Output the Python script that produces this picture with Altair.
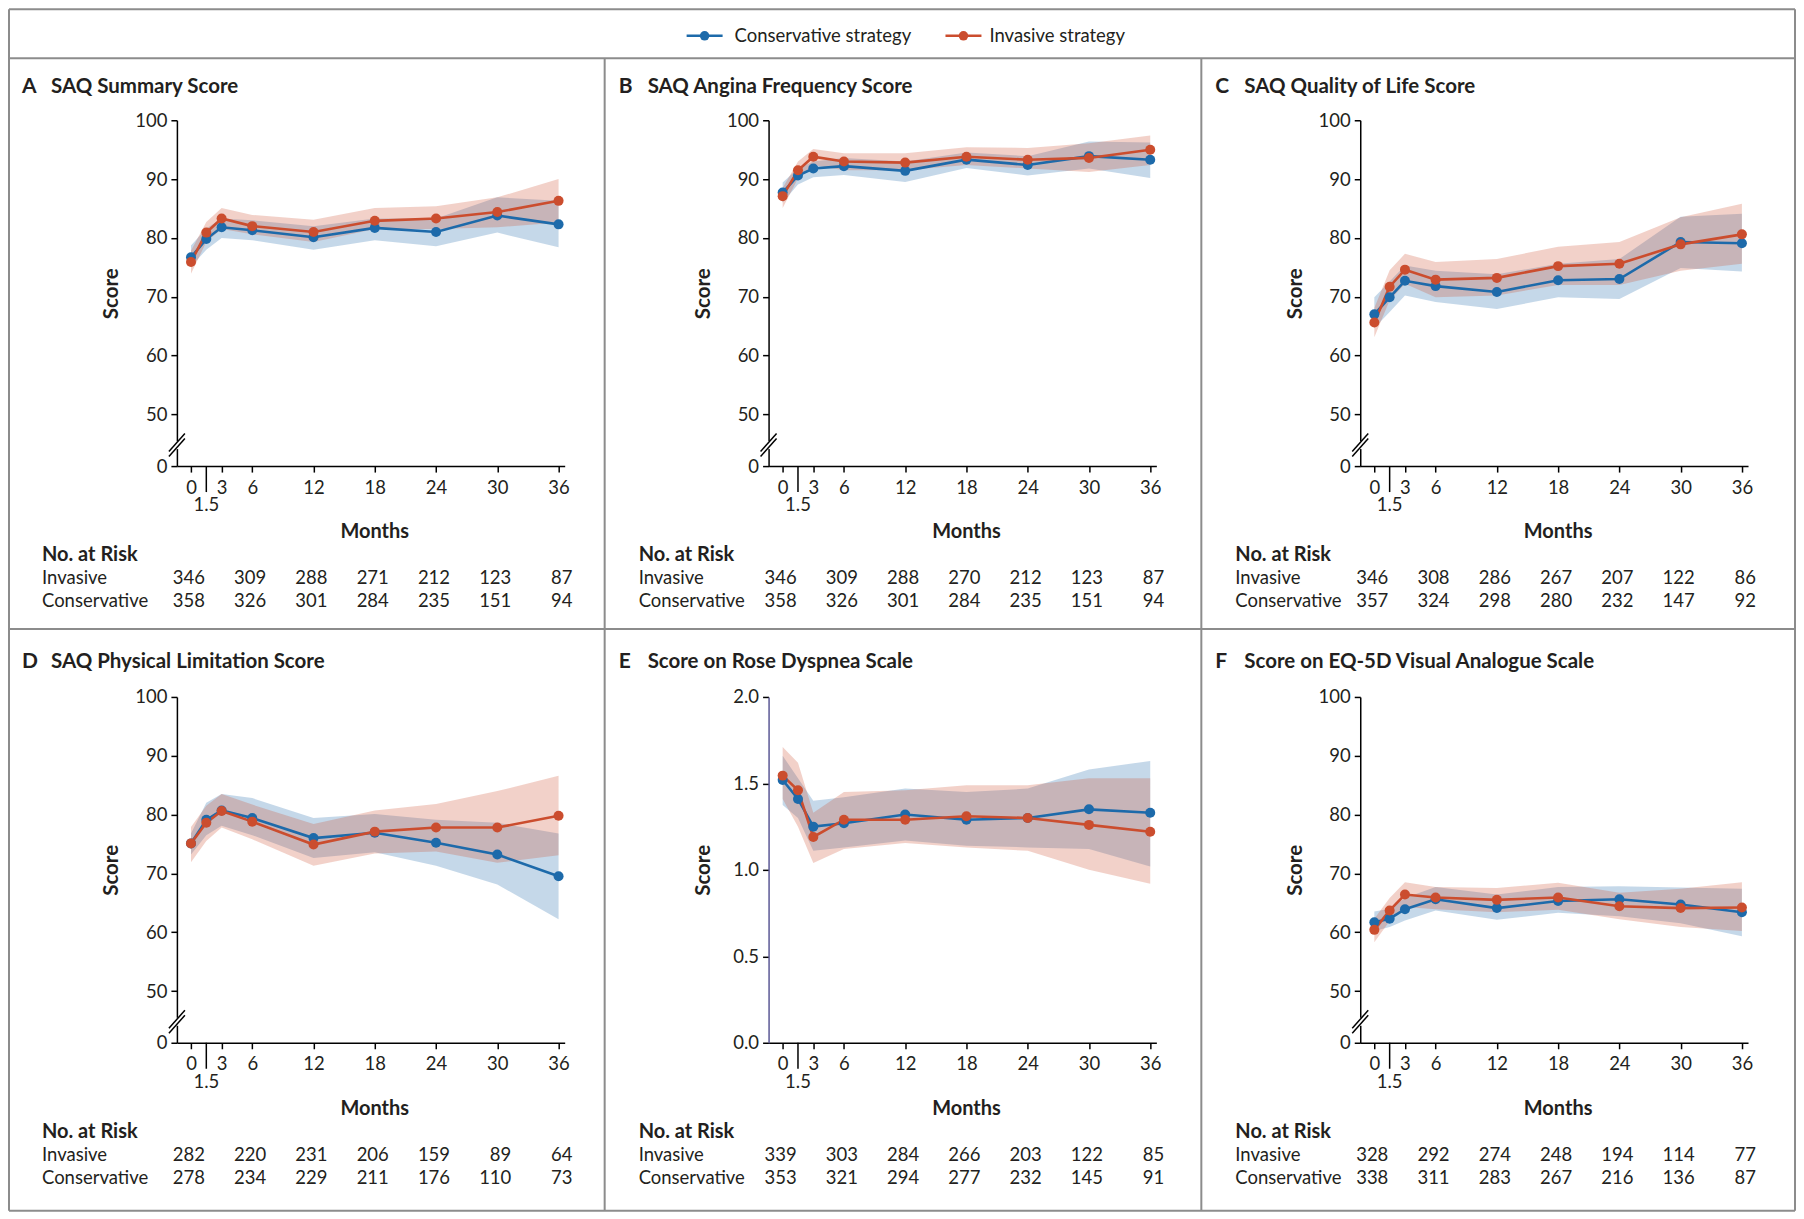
import altair as alt
import pandas as pd

MONTHS = [0, 1.5, 3, 6, 12, 18, 24, 30, 36]
RISK_MONTHS = [0, 6, 12, 18, 24, 30, 36]
GROUPS = ["Conservative strategy", "Invasive strategy"]
RISK_ROWS = ["Invasive", "Conservative"]

# Panel A: SAQ Summary Score
A_CONS = [76.7, 79.8, 81.8, 81.3, 80.1, 81.7, 81.0, 83.8, 82.3]
A_CONS_LO = [75.1, 78.0, 80.0, 79.6, 78.0, 79.6, 78.6, 80.9, 78.4]
A_CONS_HI = [78.7, 81.6, 83.3, 83.0, 82.0, 83.3, 83.3, 86.9, 86.3]
A_INV = [75.9, 80.9, 83.3, 82.0, 81.0, 82.9, 83.3, 84.4, 86.3]
A_INV_LO = [73.9, 79.3, 81.5, 80.6, 79.3, 81.5, 81.5, 81.8, 82.6]
A_INV_HI = [77.8, 82.7, 85.1, 83.9, 83.1, 85.1, 85.4, 86.9, 90.0]
A_RISK_INV = [346, 309, 288, 271, 212, 123, 87]
A_RISK_CONS = [358, 326, 301, 284, 235, 151, 94]

# Panel B: SAQ Angina Frequency Score
B_CONS = [87.7, 90.6, 91.8, 92.2, 91.4, 93.3, 92.4, 93.9, 93.3]
B_CONS_LO = [86.0, 89.1, 90.3, 90.7, 89.5, 91.9, 90.6, 91.8, 90.2]
B_CONS_HI = [89.4, 91.8, 93.0, 93.6, 93.0, 94.5, 93.9, 96.4, 96.2]
B_INV = [87.1, 91.5, 93.8, 93.0, 92.8, 93.8, 93.3, 93.6, 95.0]
B_INV_LO = [85.1, 90.1, 92.4, 91.5, 91.5, 92.4, 91.8, 91.2, 92.4]
B_INV_HI = [88.5, 93.0, 95.1, 94.4, 94.4, 95.4, 95.3, 96.1, 97.4]
B_RISK_INV = [346, 309, 288, 270, 212, 123, 87]
B_RISK_CONS = [358, 326, 301, 284, 235, 151, 94]

# Panel C: SAQ Quality of Life Score
C_CONS = [67.0, 69.9, 72.7, 71.8, 70.8, 72.8, 73.0, 79.3, 79.1]
C_CONS_LO = [64.7, 67.4, 70.2, 69.1, 67.9, 69.9, 69.6, 74.9, 74.3]
C_CONS_HI = [69.9, 72.6, 75.3, 74.4, 73.8, 75.6, 76.4, 83.6, 84.1]
C_INV = [65.6, 71.7, 74.6, 72.9, 73.2, 75.2, 75.6, 78.9, 80.6]
C_INV_LO = [63.1, 69.4, 72.2, 69.9, 70.2, 72.0, 72.0, 74.4, 75.6]
C_INV_HI = [68.1, 74.5, 77.3, 75.9, 76.4, 78.5, 79.3, 83.5, 85.8]
C_RISK_INV = [346, 308, 286, 267, 207, 122, 86]
C_RISK_CONS = [357, 324, 298, 280, 232, 147, 92]

# Panel D: SAQ Physical Limitation Score
D_CONS = [75.1, 79.1, 80.7, 79.4, 76.0, 76.9, 75.2, 73.2, 69.5]
D_CONS_LO = [73.2, 76.5, 78.1, 76.5, 72.6, 73.6, 71.3, 68.1, 62.2]
D_CONS_HI = [76.8, 82.0, 83.5, 82.8, 79.4, 80.1, 79.1, 78.6, 76.8]
D_INV = [75.1, 78.6, 80.6, 78.8, 74.9, 77.1, 77.8, 77.8, 79.8]
D_INV_LO = [71.9, 75.5, 77.8, 75.8, 71.3, 73.4, 73.7, 71.8, 73.1]
D_INV_HI = [77.9, 81.5, 83.5, 81.7, 78.4, 80.7, 81.8, 84.0, 86.6]
D_RISK_INV = [282, 220, 231, 206, 159, 89, 64]
D_RISK_CONS = [278, 234, 229, 211, 176, 110, 73]

# Panel E: Score on Rose Dyspnea Scale
E_CONS = [1.52, 1.41, 1.25, 1.27, 1.32, 1.29, 1.30, 1.35, 1.33]
E_CONS_LO = [1.375, 1.30, 1.11, 1.13, 1.17, 1.14, 1.13, 1.12, 1.02]
E_CONS_HI = [1.66, 1.53, 1.40, 1.42, 1.47, 1.45, 1.47, 1.58, 1.63]
E_INV = [1.545, 1.46, 1.19, 1.29, 1.29, 1.31, 1.30, 1.26, 1.22]
E_INV_LO = [1.41, 1.25, 1.04, 1.12, 1.155, 1.13, 1.11, 1.00, 0.92]
E_INV_HI = [1.71, 1.62, 1.33, 1.45, 1.46, 1.49, 1.49, 1.53, 1.53]
E_RISK_INV = [339, 303, 284, 266, 203, 122, 85]
E_RISK_CONS = [353, 321, 294, 277, 232, 145, 91]

# Panel F: Score on EQ-5D Visual Analogue Scale
F_CONS = [61.7, 62.3, 63.9, 65.6, 64.1, 65.3, 65.6, 64.7, 63.4]
F_CONS_LO = [60.2, 60.9, 62.0, 63.7, 62.1, 63.3, 62.7, 61.5, 59.3]
F_CONS_HI = [63.5, 64.0, 65.8, 67.7, 66.4, 67.7, 67.8, 67.6, 67.4]
F_INV = [60.4, 63.7, 66.4, 65.9, 65.5, 65.9, 64.4, 64.1, 64.2]
F_INV_LO = [58.3, 61.9, 64.3, 63.9, 63.4, 63.8, 62.2, 60.9, 60.2]
F_INV_HI = [62.3, 65.8, 68.5, 67.7, 67.5, 68.4, 66.7, 67.4, 68.5]
F_RISK_INV = [328, 292, 274, 248, 194, 114, 77]
F_RISK_CONS = [338, 311, 283, 267, 216, 136, 87]

PANELS = [
    ("A", "SAQ Summary Score", A_CONS, A_CONS_LO, A_CONS_HI, A_INV, A_INV_LO, A_INV_HI, A_RISK_INV, A_RISK_CONS, False),
    ("B", "SAQ Angina Frequency Score", B_CONS, B_CONS_LO, B_CONS_HI, B_INV, B_INV_LO, B_INV_HI, B_RISK_INV, B_RISK_CONS, False),
    ("C", "SAQ Quality of Life Score", C_CONS, C_CONS_LO, C_CONS_HI, C_INV, C_INV_LO, C_INV_HI, C_RISK_INV, C_RISK_CONS, False),
    ("D", "SAQ Physical Limitation Score", D_CONS, D_CONS_LO, D_CONS_HI, D_INV, D_INV_LO, D_INV_HI, D_RISK_INV, D_RISK_CONS, False),
    ("E", "Score on Rose Dyspnea Scale", E_CONS, E_CONS_LO, E_CONS_HI, E_INV, E_INV_LO, E_INV_HI, E_RISK_INV, E_RISK_CONS, True),
    ("F", "Score on EQ-5D Visual Analogue Scale", F_CONS, F_CONS_LO, F_CONS_HI, F_INV, F_INV_LO, F_INV_HI, F_RISK_INV, F_RISK_CONS, False),
]

W, H = 388, 346
XDOM = [-1.38, 36.6]
ZERO_POS = 41.2          # where the broken axis puts its "0"
BLUE, RED = "#1d6aaa", "#cb4d2e"
TXT = "#231f20"
FONT = "Lato"
BORDER = "#8c8c8c"
COL_BORDER = [-168, -163, -158]
ROW_TITLE_Y = [-33, -35]

one = pd.DataFrame({"k": [0]})


def xenc():
    return alt.X("month:Q", scale=alt.Scale(domain=XDOM, nice=False, zero=False),
                 axis=alt.Axis(values=[0, 3, 6, 12, 18, 24, 30, 36], title=None,
                               labelFontSize=18.5, labelPadding=6, tickSize=6,
                               tickWidth=1.5, domainWidth=1.5, grid=False,
                               labelFlush=False, labelOverlap=False))


def yenc(field, rose):
    common = dict(title="Score", titleX=-59, titleY=H / 2, titleAngle=-90, titleAlign="center",
                  titleBaseline="alphabetic", labelFontSize=18.5, labelPadding=4,
                  tickSize=6, tickWidth=1.5, domainWidth=1.5, grid=False, labelFlush=False)
    if rose:
        sc = alt.Scale(domain=[0, 2], nice=False, zero=False)
        ax = alt.Axis(values=[0, 0.5, 1, 1.5, 2], format=".1f", domainColor="#5b5895", **common)
    else:
        sc = alt.Scale(domain=[ZERO_POS, 100], nice=False, zero=False)
        ax = alt.Axis(values=[ZERO_POS, 50, 60, 70, 80, 90, 100],
                      labelExpr="datum.value < 45 ? '0' : datum.label", **common)
    return alt.Y(field + ":Q", scale=sc, axis=ax)


def col_enc():
    return alt.Color("group:N", scale=alt.Scale(domain=GROUPS, range=[BLUE, RED]), legend=None)


def vtext(txt, x, y, size=18, weight="normal", align="left", color=TXT):
    return alt.Chart(one).mark_text(fontSize=size, fontWeight=weight, align=align,
                                    baseline="middle", color=color, font=FONT).encode(
        x=alt.value(x), y=alt.value(y), text=alt.value(txt))


def vrule(x, y, x2, y2, color=BORDER, width=2):
    return alt.Chart(one).mark_rule(color=color, strokeWidth=width).encode(
        x=alt.value(x), y=alt.value(y), x2=alt.value(x2), y2=alt.value(y2))


def panel(idx):
    letter, title, c, clo, chi, iv, ilo, ihi, rinv, rcons, rose = PANELS[idx]
    col, row = idx % 3, idx // 3
    recs = []
    for g, m, lo, hi in [(GROUPS[0], c, clo, chi), (GROUPS[1], iv, ilo, ihi)]:
        for i, mo in enumerate(MONTHS):
            recs.append({"month": mo, "group": g, "mean": m[i], "lo": lo[i], "hi": hi[i]})
    df = pd.DataFrame(recs)

    bands = alt.Chart(df).mark_area(opacity=0.26).encode(
        x=xenc(), y=yenc("lo", rose), y2="hi:Q", color=col_enc())
    lines = alt.Chart(df).mark_line(strokeWidth=2.6).encode(
        x=xenc(), y=yenc("mean", rose), color=col_enc())
    pts = alt.Chart(df).mark_circle(size=100, opacity=1).encode(
        x=xenc(), y=yenc("mean", rose), color=col_enc())

    layers = [bands, lines, pts]

    # long tick + label for 1.5 months
    t15 = pd.DataFrame({"month": [1.5], "lab": ["1.5"]})
    layers.append(alt.Chart(t15).mark_rule(color="black", strokeWidth=1.5).encode(
        x=xenc(), y=alt.value(H), y2=alt.value(H + 26)))
    layers.append(alt.Chart(t15).mark_text(fontSize=18.5, baseline="middle", color=TXT, font=FONT).encode(
        x=xenc(), y=alt.value(H + 39), text="lab:N"))

    # axis break
    if not rose:
        yb = H - 21
        layers.append(vrule(0, yb - 4, 0, yb + 4, color="white", width=4))
        layers.append(vrule(-8, yb + 9 + 2.5, 8, yb - 9 + 2.5, color="black", width=1.5))
        layers.append(vrule(-8, yb + 9 - 2.5, 8, yb - 9 - 2.5, color="black", width=1.5))

    bx = COL_BORDER[col]
    ty = ROW_TITLE_Y[row]
    layers.append(vtext(letter, bx + 13, ty, size=21, weight="bold"))
    layers.append(vtext(title, bx + 42, ty, size=20.5, weight="bold"))

    # Months label at the centre of the time axis
    mdf = pd.DataFrame({"month": [18], "lab": ["Months"]})
    layers.append(alt.Chart(mdf).mark_text(fontSize=20, fontWeight="bold", baseline="middle",
                                           color=TXT, font=FONT).encode(
        x=xenc(), y=alt.value(H + 66), text="lab:N"))

    # number at risk table
    layers.append(vtext("No. at Risk", bx + 33, H + 89, size=20, weight="bold"))
    layers.append(vtext(RISK_ROWS[0], bx + 33, H + 112, size=18.5))
    layers.append(vtext(RISK_ROWS[1], bx + 33, H + 135, size=18.5))
    for vals, yy in [(rinv, H + 112), (rcons, H + 135)]:
        rdf = pd.DataFrame({"month": RISK_MONTHS, "n": vals})
        layers.append(alt.Chart(rdf).mark_text(fontSize=18.5, align="right", dx=14, baseline="middle",
                                               color=TXT, font=FONT).encode(
            x=xenc(), y=alt.value(yy), text="n:Q"))

    # frame lines (drawn once, from panel A)
    if idx == 0:
        L, R, T, B = -168, 1619, -111, 1091
        layers += [
            vrule(L, T, R, T), vrule(L, B, R, B), vrule(L, T, L, B), vrule(R, T, R, B),
            vrule(L, -62, R, -62), vrule(L, 509, R, 509),
            vrule(428, -62, 428, B), vrule(1025, -62, 1025, B),
        ]

    # legend (drawn from panel B)
    if idx == 1:
        ly = -84.5
        for col_c, x0, x1, xd, xt, name in [(BLUE, -82, -46, -64, -34, GROUPS[0]),
                                            (RED, 177, 213, 195, 221, GROUPS[1])]:
            layers.append(vrule(x0, ly, x1, ly, color=col_c, width=2.5))
            layers.append(alt.Chart(one).mark_circle(size=90, opacity=1, color=col_c).encode(
                x=alt.value(xd), y=alt.value(ly)))
            layers.append(vtext(name, xt, ly, size=18.5))

    return alt.layer(*layers).properties(width=W, height=H)


chart = alt.concat(*[panel(i) for i in range(6)], columns=3,
                   spacing={"row": 231, "column": 204}, bounds="flush").properties(
    padding=0, background="white"
).configure_view(stroke=None).configure_axis(
    labelFont=FONT, titleFont=FONT, labelColor=TXT, titleColor=TXT,
    domainColor="black", tickColor="black", titleFontSize=20.5, titleFontWeight="bold"
)

chart.save("out.html", embed_options={"renderer": "svg", "actions": False})
